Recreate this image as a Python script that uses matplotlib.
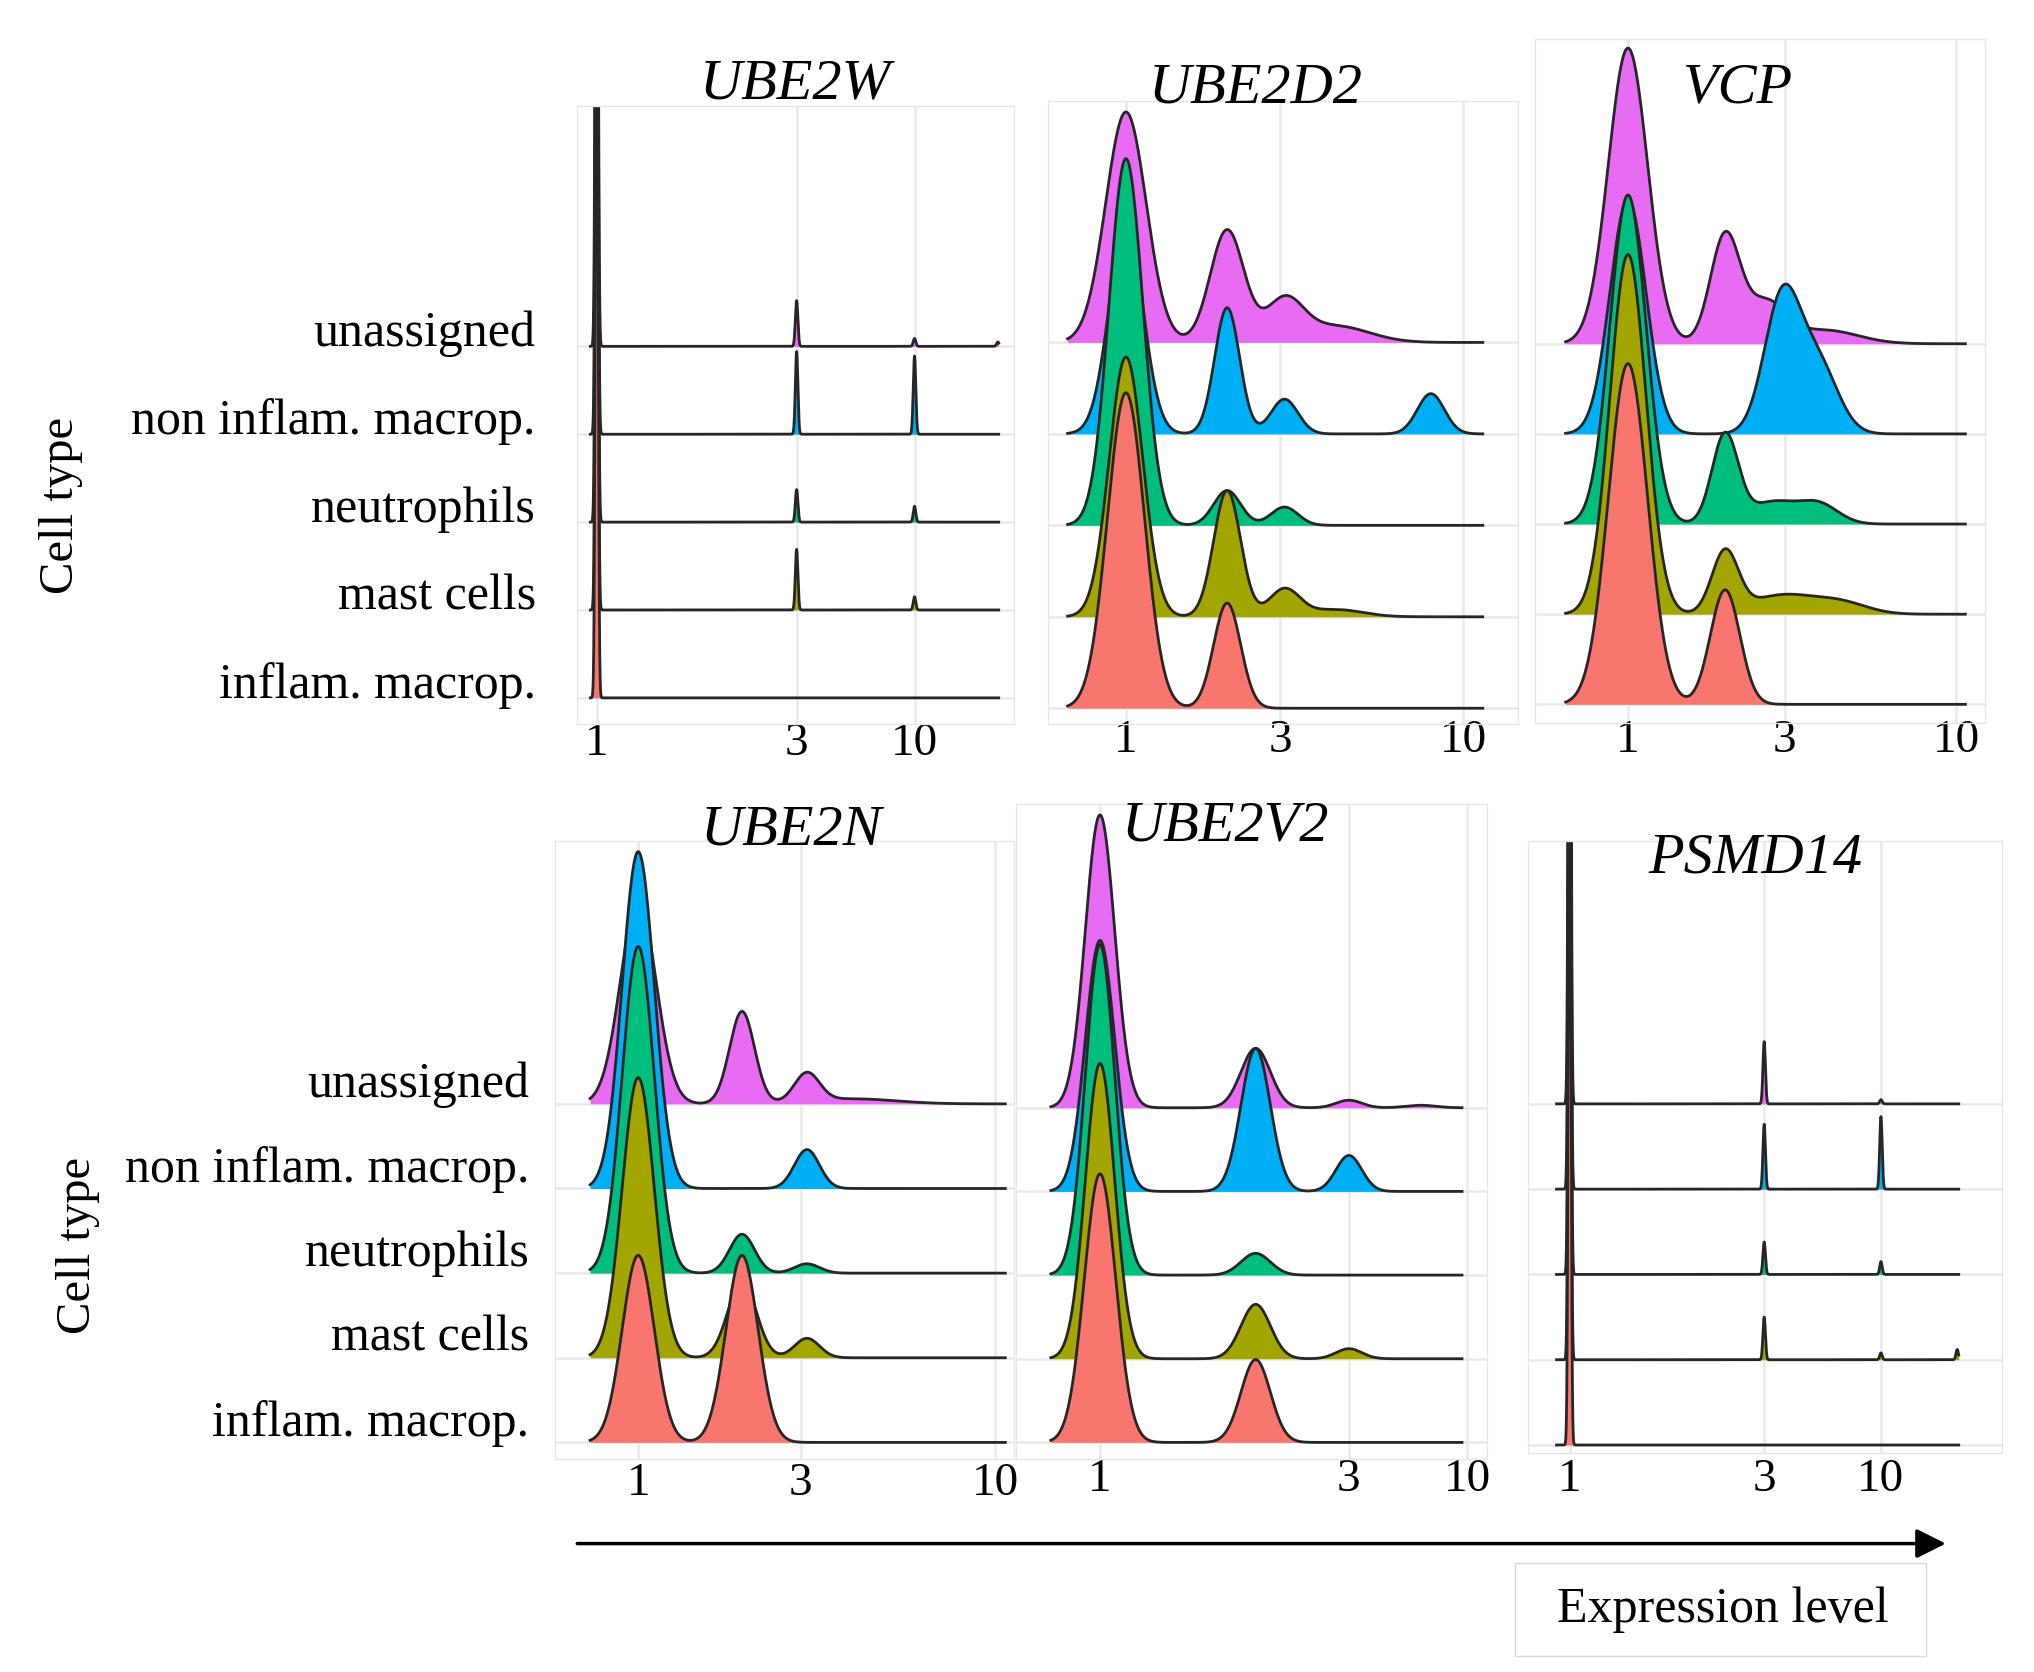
import numpy as np
import matplotlib
matplotlib.use("Agg")
import matplotlib.pyplot as plt
from matplotlib.patches import Rectangle

plt.rcParams['font.family'] = ['Liberation Serif', 'DejaVu Serif']

# rows, bottom to top
cell_types = ['inflam. macrop.', 'mast cells', 'neutrophils',
              'non inflam. macrop.', 'unassigned']
colors = ['#F8766D', '#A3A500', '#00BF7D', '#00B0F6', '#E76BF3']
tick_labels = ['1', '3', '10']

# x in axis units: tick "1" at 0, tick "10" at 1 (each panel has its own stretch)
# peaks: (position, height in row spacings, sd) per cell type, bottom to top
ube2w_ticks = [0, 0.629, 1]
ube2w_range = (-0.02, 1.265)
ube2w_peaks = [
    [(0, 9, .004)],
    [(0, 9, .004), (0.629, 0.69, .004), (1, 0.15, .004)],
    [(0, 9, .004), (0.629, 0.37, .004), (1, 0.18, .004)],
    [(0, 9, .004), (0.629, 0.94, .004), (1, 0.89, .004)],
    [(0, 9, .004), (0.629, 0.52, .004), (1, 0.09, .004), (1.262, 0.05, .004)],
]

ube2d2_ticks = [0, 0.458, 1]
ube2d2_range = (-0.173, 1.058)
ube2d2_peaks = [
    [(0, 3.45, .055), (0.30, 1.15, .04)],
    [(0, 2.84, .05), (0.30, 1.38, .04), (0.47, 0.30, .045), (0.62, 0.08, .08)],
    [(0, 4.01, .05), (0.30, 0.38, .04), (0.47, 0.20, .04)],
    [(0, 2.30, .05), (0.30, 1.38, .037), (0.47, 0.38, .04), (0.904, 0.44, .04)],
    [(0, 2.52, .06), (0.30, 1.23, .05), (0.47, 0.45, .055), (0.62, 0.18, .1)],
]

vcp_ticks = [0, 0.478, 1]
vcp_range = (-0.19, 1.028)
vcp_peaks = [
    [(0, 3.78, .06), (0.296, 1.27, .045)],
    [(0, 3.99, .055), (0.296, 0.68, .04), (0.47, 0.21, .1), (0.65, 0.12, .08)],
    [(0, 3.65, .055), (0.296, 0.99, .04), (0.44, 0.24, .07), (0.58, 0.22, .06)],
    [(0, 2.60, .055), (0.47, 1.50, .055), (0.58, 0.75, .06)],
    [(0, 3.28, .06), (0.296, 1.19, .045), (0.42, 0.45, .06), (0.60, 0.15, .1)],
]

ube2n_ticks = [0, 0.455, 1]
ube2n_range = (-0.135, 1.029)
ube2n_peaks = [
    [(0, 2.21, .045), (0.291, 2.21, .045)],
    [(0, 3.31, .045), (0.291, 0.90, .04), (0.473, 0.23, .035)],
    [(0, 3.86, .045), (0.291, 0.46, .035), (0.473, 0.11, .035)],
    [(0, 3.98, .045), (0.473, 0.46, .035)],
    [(0, 2.40, .05), (0.291, 1.09, .035), (0.473, 0.34, .035), (0.60, 0.06, .12)],
]

ube2v2_ticks = [0, 0.678, 1]
ube2v2_range = (-0.134, 0.986)
ube2v2_peaks = [
    [(0, 3.21, .043), (0.424, 0.99, .04)],
    [(0, 3.53, .04), (0.424, 0.65, .04), (0.678, 0.12, .035)],
    [(0, 3.95, .04), (0.424, 0.26, .04)],
    [(0, 3.00, .04), (0.424, 1.71, .04), (0.678, 0.43, .035)],
    [(0, 3.50, .04), (0.424, 0.71, .04), (0.678, 0.09, .035), (0.873, 0.03, .04)],
]

psmd14_ticks = [0, 0.625, 1]
psmd14_range = (-0.042, 1.25)
psmd14_peaks = [
    [(0, 9, .004)],
    [(0, 9, .004), (0.625, 0.50, .004), (1, 0.08, .004), (1.245, 0.12, .004)],
    [(0, 9, .004), (0.625, 0.38, .004), (1, 0.15, .004)],
    [(0, 9, .004), (0.625, 0.76, .004), (1, 0.85, .004)],
    [(0, 9, .004), (0.625, 0.73, .004), (1, 0.05, .004)],
]

# layout in reference pixels (1568 x 1289 view)
W, H = 1568.0, 1289.0
panels = [
    # gene, ticks, range, peaks, (l, t, r, b), px of "1", px of "10", bottom baseline, row step, title xy, tick label y
    ('UBE2W', ube2w_ticks, ube2w_range, ube2w_peaks, (445, 82, 782, 558), 460, 705, 538, 67.75, (613, 65), 573),
    ('UBE2D2', ube2d2_ticks, ube2d2_range, ube2d2_peaks, (808, 78, 1170, 558), 868, 1128, 546, 70.5, (968, 68), 571),
    ('VCP', vcp_ticks, vcp_range, vcp_peaks, (1183, 30, 1530, 557), 1255, 1508, 543, 69.5, (1340, 68), 571),
    ('UBE2N', ube2n_ticks, ube2n_range, ube2n_peaks, (428, 648, 782, 1125), 492, 767, 1112, 65.25, (610, 640), 1144),
    ('UBE2V2', ube2v2_ticks, ube2v2_range, ube2v2_peaks, (783, 620, 1146, 1125), 848, 1131, 1112, 64.5, (945, 637), 1141),
    ('PSMD14', psmd14_ticks, psmd14_range, psmd14_peaks, (1178, 648, 1543, 1120), 1210, 1450, 1114, 65.75, (1353, 662), 1141),
]

fig = plt.figure(figsize=(20.34, 16.72), dpi=100)


def density(xs, peaks):
    y = np.zeros_like(xs)
    for m, h, s in peaks:
        y += h * np.exp(-0.5 * ((xs - m) / s) ** 2)
    return y


axes = []
for k, (gene, ticks, xr, peaks, rect, t1, t10, yb, d, tpos, tly) in enumerate(panels):
    l, t, r, b = rect
    ax = fig.add_axes([l / W, 1 - b / H, (r - l) / W, (b - t) / H])
    span = t10 - t1
    ax.set_xlim((l - t1) / span, (r - t1) / span)
    ax.set_ylim((yb - b) / d, (yb - t) / d)
    ax.patch.set_alpha(0)
    for sp in ax.spines.values():
        sp.set_visible(False)
    ax.set_xticks(ticks)
    ax.set_yticks(range(len(cell_types)))
    ax.tick_params(length=0, labelbottom=False, labelleft=False)
    ax.grid(True, color='#e9e9e9', lw=1.8)
    ax.set_axisbelow(True)

    xs = np.linspace(xr[0], xr[1], 5000)
    for i, pk in enumerate(peaks):
        y = density(xs, pk)
        ax.fill_between(xs, i, i + y, color=colors[i], lw=0, zorder=20 - 2 * i)
        ax.plot(xs, i + y, color='#262626', lw=2.0, zorder=21 - 2 * i,
                solid_joinstyle='round')

    for tv, tl in zip(ticks, tick_labels):
        ax.text(tv, (b - tly) / (b - t), tl, transform=ax.get_xaxis_transform(),
                ha='center', va='center', fontsize=34, clip_on=False)

    if k in (0, 3):
        lab_x = 413 if k == 0 else 408
        lab_dy = 0.0 if k == 0 else 0.08
        for i, name in enumerate(cell_types):
            ax.text((lab_x - t1) / span, i + lab_dy, name, ha='right',
                    va='baseline', fontsize=36, clip_on=False)
    axes.append(ax)

# figure-level annotations, drawn on top in reference pixel coordinates
overlay = fig.add_axes([0, 0, 1, 1], zorder=5)
overlay.set_xlim(0, W)
overlay.set_ylim(H, 0)
overlay.patch.set_alpha(0)
overlay.axis('off')

for gene, ticks, xr, peaks, rect, t1, t10, yb, d, tpos, tly in panels:
    l, t, r, b = rect
    overlay.text(tpos[0], tpos[1], gene, ha='center', va='center',
                 fontsize=42, style='italic')
    overlay.add_patch(Rectangle((l, t), r - l, b - t, fill=False,
                                ec='#e6e6e6', lw=1, zorder=0))

overlay.text(47, 390, 'Cell type', rotation=90, ha='center', va='center', fontsize=35)
overlay.text(60, 960, 'Cell type', rotation=90, ha='center', va='center', fontsize=35)

overlay.annotate('', xy=(1500, 1190), xytext=(445, 1190),
                 arrowprops=dict(arrowstyle='-|>', color='black', lw=2.5,
                                 mutation_scale=45, shrinkA=0, shrinkB=0))
overlay.add_patch(Rectangle((1168, 1205), 317, 72, fill=False, ec='#d9d9d9', lw=1))
overlay.text(1328, 1241, 'Expression level', ha='center', va='center', fontsize=36)

fig.savefig('out.png', dpi=100)
